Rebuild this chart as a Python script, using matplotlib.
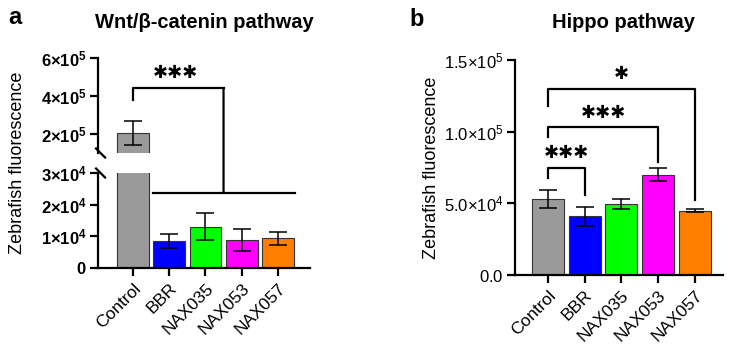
import numpy as np
import matplotlib
matplotlib.use("Agg")
import matplotlib.pyplot as plt
from matplotlib.patches import ConnectionPatch

plt.rcParams['font.family'] = ['Liberation Sans', 'DejaVu Sans']
plt.rcParams['mathtext.fontset'] = 'custom'
plt.rcParams['mathtext.rm'] = 'Liberation Sans'
plt.rcParams['mathtext.bf'] = 'Liberation Sans:bold'

groups = ['Control', 'BBR', 'NAX035', 'NAX053', 'NAX057']
colors = ['#9a9a9a', '#0000ff', '#00ff00', '#ff00ff', '#ff8000']

# panel a: Wnt/beta-catenin
wnt_mean = [2.05e5, 8.6e3, 1.31e4, 8.8e3, 9.4e3]
wnt_sd = [6.4e4, 2.2e3, 4.4e3, 3.4e3, 2.0e3]
wnt_top_ticks = [2e5, 4e5, 6e5]
wnt_top_labels = [r'$\mathbf{2{\times}10^{5}}$', r'$\mathbf{4{\times}10^{5}}$', r'$\mathbf{6{\times}10^{5}}$']
wnt_bot_ticks = [0, 1e4, 2e4, 3e4]
wnt_bot_labels = [r'$\mathbf{0}$', r'$\mathbf{1{\times}10^{4}}$', r'$\mathbf{2{\times}10^{4}}$', r'$\mathbf{3{\times}10^{4}}$']

# panel b: Hippo
hippo_mean = [5.3e4, 4.1e4, 4.95e4, 7.0e4, 4.5e4]
hippo_sd = [6.2e3, 6.5e3, 3.8e3, 4.7e3, 9e2]
hippo_ticks = [0, 5e4, 1e5, 1.5e5]
hippo_labels = [r'$\mathrm{0.0}$', r'$\mathrm{5.0{\times}10^{4}}$', r'$\mathrm{1.0{\times}10^{5}}$', r'$\mathrm{1.5{\times}10^{5}}$']
# brackets: (start, end, top y, left leg y, right leg y, label, label y)
hippo_sig = [(0, 1, 7.5e4, 6.75e4, 5.6e4, '✱✱✱', 8.5e4),
             (0, 3, 1.035e5, 9.6e4, 7.9e4, '✱✱✱', 1.13e5),
             (0, 4, 1.30e5, 1.18e5, 5.2e4, '✱', 1.40e5)]

W, H = 733, 346
fig = plt.figure(figsize=(W / 100, H / 100), dpi=100)

def px(x0, y0, x1, y1):
    # left, bottom, width, height in figure fraction from pixel box
    return [x0 / W, 1 - y1 / H, (x1 - x0) / W, (y1 - y0) / H]

LW = 1.6
STAR = dict(ha='center', va='center', fontsize=13, family='DejaVu Sans', fontweight='bold')
x = np.arange(len(groups))

def style(ax):
    for s in ['top', 'right']:
        ax.spines[s].set_visible(False)
    for s in ['left', 'bottom']:
        ax.spines[s].set_linewidth(LW)
    ax.tick_params(width=LW, length=6, labelsize=12, pad=2)

def bars(ax, mean, sd, width):
    ax.bar(x, mean, width=width, color=colors, edgecolor='#333333', linewidth=0.8, zorder=2)
    ax.errorbar(x, mean, yerr=sd, fmt='none', ecolor='black', elinewidth=1.1,
                capsize=6.5, capthick=1.1, zorder=3)

# ---- panel a (broken axis)
ax_top = fig.add_axes(px(98, 58, 310, 153))
ax_bot = fig.add_axes(px(98, 173, 310, 268))
for ax in (ax_top, ax_bot):
    style(ax)
    bars(ax, wnt_mean, wnt_sd, 0.88)
    ax.set_xlim(-0.97, 4.89)

ax_top.set_ylim(1e5, 6e5)
ax_top.spines['bottom'].set_visible(False)
ax_top.tick_params(axis='x', bottom=False, labelbottom=False)
ax_top.set_yticks(wnt_top_ticks, wnt_top_labels)

ax_bot.set_ylim(0, 3e4)
ax_bot.set_yticks(wnt_bot_ticks, wnt_bot_labels)
ax_bot.set_xticks(x, groups, rotation=45, ha='right', rotation_mode='anchor', fontsize=12.5)
ax_bot.tick_params(axis='x', pad=3)

# break marks
for ax, yy in ((ax_top, 0), (ax_bot, 1)):
    bb = ax.get_position()
    dx = 4.5 / (bb.width * W)
    dy = 4.5 / (bb.height * H)
    ax.plot([-dx + 0.012, dx + 0.012], [yy + dy, yy - dy], transform=ax.transAxes,
            color='black', lw=LW, clip_on=False)

# significance bracket across the break
ax_top.plot([0, 0, 2.5], [3.8e5, 4.42e5, 4.42e5], color='black', lw=LW, clip_on=False)
ax_bot.plot([0.55, 4.47], [2.37e4, 2.37e4], color='black', lw=LW, clip_on=False)
con = ConnectionPatch(xyA=(2.5, 4.42e5), coordsA=ax_top.transData,
                      xyB=(2.5, 2.37e4), coordsB=ax_bot.transData,
                      color='black', lw=LW)
fig.add_artist(con)
ax_top.text(1.16, 5.2e5, '✱✱✱', **STAR)

fig.text(18 / W, 1 - 163 / H, 'Zebrafish fluorescence', rotation=90, ha='center', va='center', fontsize=13)
fig.text(204 / W, 1 - 22 / H, 'Wnt/β-catenin pathway', ha='center', va='center', fontsize=14.5, fontweight='bold')
fig.text(15 / W, 1 - 18 / H, 'a', ha='center', va='center', fontsize=17, fontweight='bold')

# ---- panel b
ax_b = fig.add_axes(px(515, 60, 723, 275))
style(ax_b)
bars(ax_b, hippo_mean, hippo_sd, 0.87)
ax_b.set_xlim(-0.9, 4.77)
ax_b.set_ylim(0, 1.5e5)
ax_b.set_yticks(hippo_ticks, hippo_labels)
ax_b.set_xticks(x, groups, rotation=45, ha='right', rotation_mode='anchor', fontsize=12.5)
ax_b.tick_params(axis='x', pad=3)
for a, b, top, yl, yr, lab, ly in hippo_sig:
    ax_b.plot([a, a, b, b], [yl, top, top, yr], color='black', lw=LW, clip_on=False)
    ax_b.text((a + b) / 2, ly, lab, **STAR)

fig.text(432 / W, 1 - 168 / H, 'Zebrafish fluorescence', rotation=90, ha='center', va='center', fontsize=13)
fig.text(623 / W, 1 - 22 / H, 'Hippo pathway', ha='center', va='center', fontsize=14.5, fontweight='bold')
fig.text(417 / W, 1 - 19 / H, 'b', ha='center', va='center', fontsize=17, fontweight='bold')

fig.savefig('out.png', dpi=100)
